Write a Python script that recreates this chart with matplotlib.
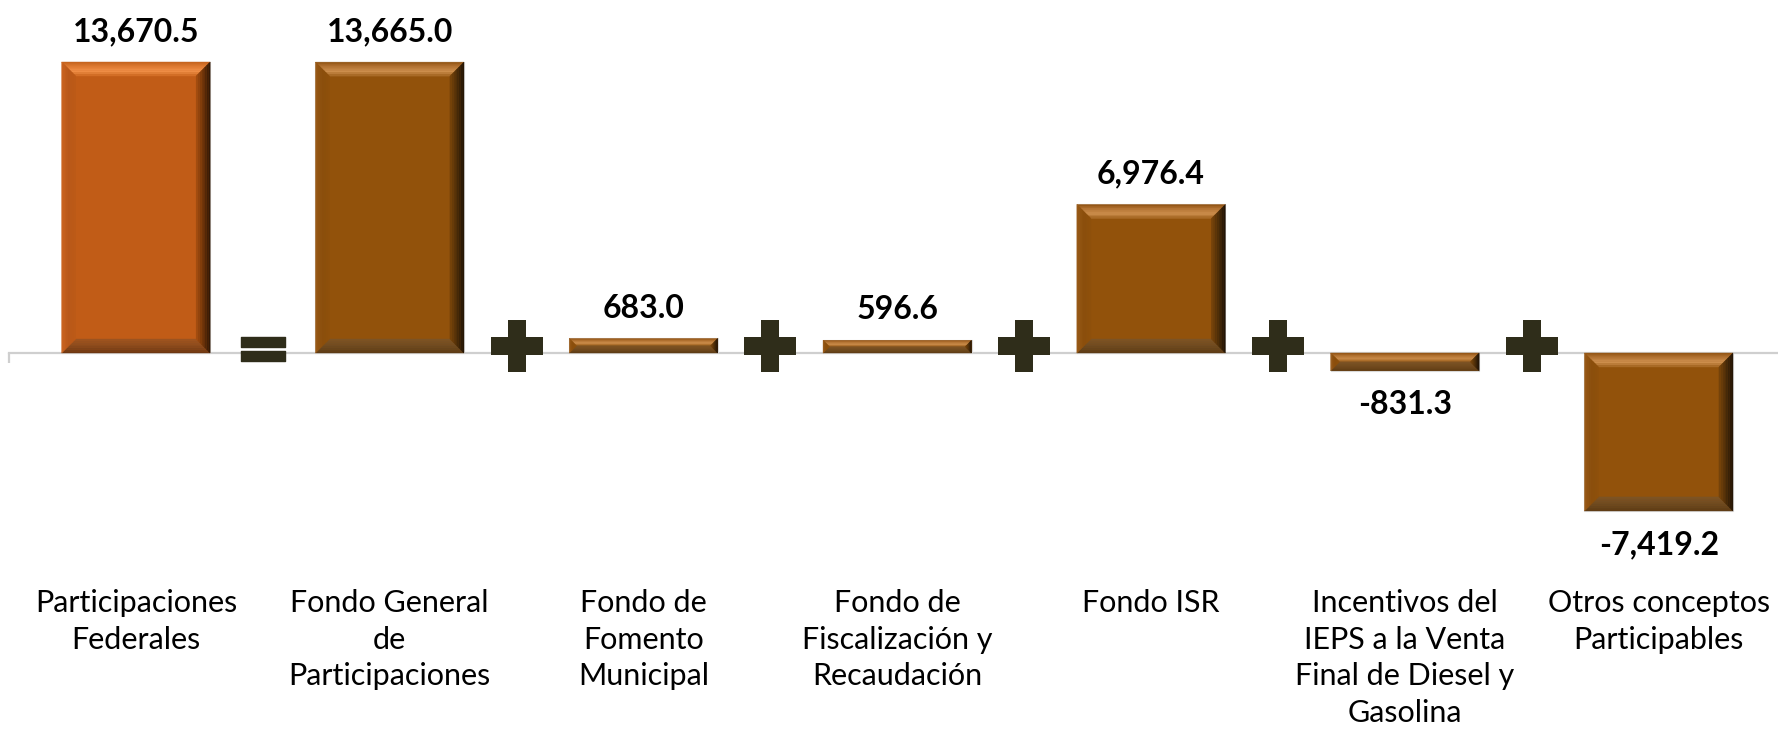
"""
Participaciones Federales breakdown — bevelled bar chart with = / + separators.
"""
import matplotlib
matplotlib.use("Agg")
import matplotlib.pyplot as plt
import matplotlib.transforms as mtransforms
from matplotlib.colors import to_rgb
from matplotlib.path import Path
from matplotlib.patches import Polygon
import numpy as np

# ── data ───────────────────────────────────────────────────────────────────
categories = [
    "Participaciones\nFederales",
    "Fondo General\nde\nParticipaciones",
    "Fondo de\nFomento\nMunicipal",
    "Fondo de\nFiscalización y\nRecaudación",
    "Fondo ISR",
    "Incentivos del\nIEPS a la Venta\nFinal de Diesel y\nGasolina",
    "Otros conceptos\nParticipables",
]
values = [13670.5, 13665.0, 683.0, 596.6, 6976.4, -831.3, -7419.2]
operators = ["=", "+", "+", "+", "+", "+"]

# ── style ──────────────────────────────────────────────────────────────────
# bevel colour stops, outer edge -> inner edge
TOTAL_SHADES = {
    "body": "#C15C17",
    "top": ["#C0601A", "#E07C34", "#F09048", "#CC661E"],
    "right": ["#2A1404", "#6A3208", "#A84E10"],
    "bottom": ["#6A3410", "#8A4A1C", "#9E5420"],
    "left": ["#CC6420", "#B8581A", "#BD5A17"],
}
PART_SHADES = {
    "body": "#92520B",
    "top": ["#8E5010", "#B57535", "#CF914F", "#A0621E"],
    "right": ["#1C1004", "#4A2C08", "#7A450A"],
    "bottom": ["#5A3A14", "#6E4A20", "#7E5424"],
    "left": ["#9A5A18", "#8A4E0C", "#8E500B"],
}
SYMBOL_COLOR = "#2F2D1A"
AXIS_COLOR = "#CFCFCF"
TEXT_COLOR = "#000000"
BEVEL_PX = 14
STRIPS = 8

plt.rcParams["font.family"] = ["Lato", "DejaVu Sans"]


def ramp(stops, t):
    """Colour at fraction t (0 = outer, 1 = inner) along the stop list."""
    rgb = np.array([to_rgb(c) for c in stops])
    pos = np.linspace(0, 1, len(stops))
    return tuple(np.interp(t, pos, rgb[:, k]) for k in range(3))


W, H, DPI = 1778, 729, 100
fig = plt.figure(figsize=(W / DPI, H / DPI), dpi=DPI)
fig.patch.set_facecolor("white")

# axes spans from the left tick to the right edge, top of figure to label area
ax_left, ax_bottom_px = 9, 575
ax = fig.add_axes([ax_left / W, 1 - ax_bottom_px / H, 1 - ax_left / W, ax_bottom_px / H])
ax.set_facecolor("white")

zero_px = 353
px_per_unit = 291 / 13670.5
ax.set_ylim(-(ax_bottom_px - zero_px) / px_per_unit, zero_px / px_per_unit)
ax.set_xlim(-0.5, 6.47)

x = np.arange(len(categories))
bars = ax.bar(x, values, width=0.585, color=PART_SHADES["body"],
              edgecolor="#D9D9D9", linewidth=0.8, zorder=3)
bars[0].set_facecolor(TOTAL_SHADES["body"])

# bevel effect on every bar, drawn as graded strips
p0 = ax.transData.transform((0, 0))
p1 = ax.transData.transform((1, 1))
ux = p1[0] - p0[0]
uy = p1[1] - p0[1]
for i, bar in enumerate(bars):
    shades = TOTAL_SHADES if i == 0 else PART_SHADES
    x0 = bar.get_x()
    x1 = x0 + bar.get_width()
    y0 = min(bar.get_y(), bar.get_y() + bar.get_height())
    y1 = max(bar.get_y(), bar.get_y() + bar.get_height())
    b = min(BEVEL_PX, (y1 - y0) * uy / 2)
    bx, by = b / ux, b / uy
    # outer edge (A, B) and the direction each corner moves inward
    faces = {
        "top": ((x0, y1), (x1, y1), (bx, -by), (-bx, -by)),
        "bottom": ((x0, y0), (x1, y0), (bx, by), (-bx, by)),
        "left": ((x0, y0), (x0, y1), (bx, by), (bx, -by)),
        "right": ((x1, y0), (x1, y1), (-bx, by), (-bx, -by)),
    }
    for face, (A, B, dA, dB) in faces.items():
        for k in range(STRIPS):
            t0, t1 = k / STRIPS, (k + 1) / STRIPS
            pts = [(A[0] + t0 * dA[0], A[1] + t0 * dA[1]),
                   (B[0] + t0 * dB[0], B[1] + t0 * dB[1]),
                   (B[0] + t1 * dB[0], B[1] + t1 * dB[1]),
                   (A[0] + t1 * dA[0], A[1] + t1 * dA[1])]
            col = ramp(shades[face], (t0 + t1) / 2)
            ax.add_patch(Polygon(pts, closed=True, facecolor=col,
                                 edgecolor=col, linewidth=0.3, zorder=4))

# value labels
for bar, val in zip(bars, values):
    cx = bar.get_x() + bar.get_width() / 2
    if val >= 0:
        ax.annotate(f"{val:,.1f}", (cx, val), textcoords="offset points",
                    xytext=(0, 15), ha="center", va="baseline", fontsize=23,
                    fontweight="bold", color=TEXT_COLOR)
    else:
        ax.annotate(f"{val:,.1f}", (cx, val), textcoords="offset points",
                    xytext=(0, -14), ha="center", va="top", fontsize=23,
                    fontweight="bold", color=TEXT_COLOR)

# operators between the bars
eq_verts = np.array([(-1, 0.116), (1, 0.116), (1, 0.58), (-1, 0.58), (-1, 0.116),
                     (-1, -0.58), (1, -0.58), (1, -0.116), (-1, -0.116), (-1, -0.58)])
eq_codes = [Path.MOVETO, Path.LINETO, Path.LINETO, Path.LINETO, Path.CLOSEPOLY] * 2
eq_marker = Path(eq_verts, eq_codes)
sym_x = x[:-1] + 0.5
for sx, op in zip(sym_x, operators):
    if op == "=":
        tr = mtransforms.offset_copy(ax.transData, fig=fig, y=4, units="dots")
        ax.plot([sx], [0], marker=eq_marker, markersize=31, color=SYMBOL_COLOR,
                linestyle="none", transform=tr, zorder=5)
    else:
        tr = mtransforms.offset_copy(ax.transData, fig=fig, y=7, units="dots")
        ax.plot([sx], [0], marker="P", markersize=38, color=SYMBOL_COLOR,
                markeredgewidth=0, linestyle="none", transform=tr, zorder=5)

# category axis along y = 0
for side in ["top", "right", "left"]:
    ax.spines[side].set_visible(False)
ax.spines["bottom"].set_position(("data", 0))
ax.spines["bottom"].set_color(AXIS_COLOR)
ax.spines["bottom"].set_linewidth(1.6)
ax.spines["bottom"].set_zorder(2)
ax.set_yticks([])
ax.set_xticks(x)
ax.set_xticklabels(categories, fontsize=22, color=TEXT_COLOR, linespacing=1.37)
ax.tick_params(axis="x", which="major", length=0, pad=170)
ax.set_xticks([-0.5], minor=True)
ax.tick_params(axis="x", which="minor", length=7, width=1.6, color=AXIS_COLOR)

fig.savefig("out.png", dpi=DPI, facecolor="white")
plt.close(fig)
